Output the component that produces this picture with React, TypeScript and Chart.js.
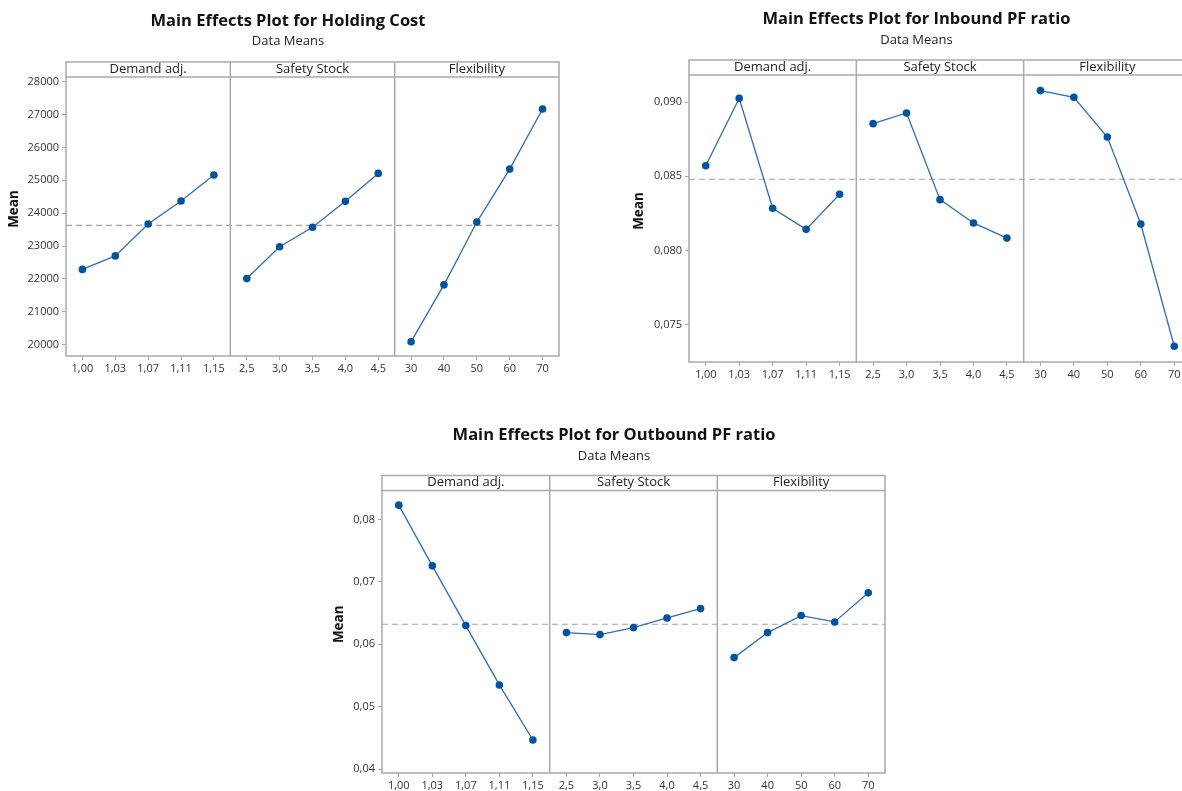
import React, { useEffect, useRef } from 'react';
import { Chart, registerables } from 'chart.js';

Chart.register(...registerables);

// ---------- data ----------
const factorNames = ['Demand adj.', 'Safety Stock', 'Flexibility'];
const demandLevels = ['1,00', '1,03', '1,07', '1,11', '1,15'];
const safetyLevels = ['2,5', '3,0', '3,5', '4,0', '4,5'];
const flexLevels = ['30', '40', '50', '60', '70'];

const holdingDemand = [22290, 22700, 23670, 24370, 25160];
const holdingSafety = [22010, 22980, 23570, 24360, 25210];
const holdingFlex = [20090, 21820, 23730, 25340, 27170];
const holdingTicks = [20000, 21000, 22000, 23000, 24000, 25000, 26000, 27000, 28000];

const inboundDemand = [0.0857, 0.09025, 0.08284, 0.08142, 0.08378];
const inboundSafety = [0.08854, 0.08926, 0.08342, 0.08185, 0.08083];
const inboundFlex = [0.09077, 0.09032, 0.08764, 0.08178, 0.07354];
const inboundTicks = [0.075, 0.08, 0.085, 0.09];

const outboundDemand = [0.0823, 0.07257, 0.06299, 0.05348, 0.04465];
const outboundSafety = [0.06187, 0.06155, 0.06267, 0.06422, 0.06572];
const outboundFlex = [0.05786, 0.06187, 0.0646, 0.06358, 0.06824];
const outboundTicks = [0.04, 0.05, 0.06, 0.07, 0.08];

// ---------- styles ----------
const FONT = '"Open Sans", "Noto Sans", sans-serif';
const LINE = '#2f6db5';
const POINT = '#00539e';
const FRAME = '#a9a9a9';
const TEXT = '#333333';

type Spec = {
  title: string;
  subtitle: string;
  left: number;
  top: number;
  width: number;
  height: number;
  frameTop: number;
  area: { left: number; top: number; right: number; bottom: number };
  series: number[][];
  yMin: number;
  yMax: number;
  yTicks: number[];
  fmt: (v: number) => string;
  titleX: number;
  titleY: number;
  subY: number;
  meanLabelX: number;
};

const specs: Spec[] = [
  {
    title: 'Main Effects Plot for Holding Cost',
    subtitle: 'Data Means',
    left: 0, top: 0, width: 570, height: 385,
    frameTop: 62,
    area: { left: 66, top: 77, right: 559, bottom: 356 },
    series: [holdingDemand, holdingSafety, holdingFlex],
    yMin: 19655, yMax: 28142, yTicks: holdingTicks,
    fmt: (v) => String(Math.round(v)),
    titleX: 288, titleY: 21, subY: 41.5, meanLabelX: 14,
  },
  {
    title: 'Main Effects Plot for Inbound PF ratio',
    subtitle: 'Data Means',
    left: 620, top: 0, width: 580, height: 390,
    frameTop: 60,
    area: { left: 69, top: 75, right: 571, bottom: 362 },
    series: [inboundDemand, inboundSafety, inboundFlex],
    yMin: 0.07248, yMax: 0.09182, yTicks: inboundTicks,
    fmt: (v) => v.toFixed(3).replace('.', ','),
    titleX: 296.5, titleY: 19, subY: 40, meanLabelX: 19,
  },
  {
    title: 'Main Effects Plot for Outbound PF ratio',
    subtitle: 'Data Means',
    left: 320, top: 420, width: 580, height: 371,
    frameTop: 55.5,
    area: { left: 62, top: 70.5, right: 565, bottom: 353 },
    series: [outboundDemand, outboundSafety, outboundFlex],
    yMin: 0.03936, yMax: 0.08465, yTicks: outboundTicks,
    fmt: (v) => v.toFixed(2).replace('.', ','),
    titleX: 294, titleY: 15, subY: 36, meanLabelX: 19,
  },
];

const levelSets = [demandLevels, safetyLevels, flexLevels];

function EffectsChart({ spec }: { spec: Spec }) {
  const ref = useRef<HTMLCanvasElement | null>(null);

  useEffect(() => {
    if (!ref.current) return;
    const labels = [...demandLevels, ...safetyLevels, ...flexLevels];
    const all = spec.series.flat();
    const grandMean = all.reduce((a, b) => a + b, 0) / all.length;

    const datasets = spec.series.map((vals, k) => ({
      data: levelSets[k].map((l, i) => ({ x: l, y: vals[i] })),
      borderColor: LINE,
      borderWidth: 1.3,
      backgroundColor: POINT,
      pointBackgroundColor: POINT,
      pointBorderColor: POINT,
      pointRadius: 3.8,
      pointBorderWidth: 0,
      tension: 0,
      fill: false,
      clip: false as any,
    }));

    const panelPlugin = {
      id: 'panels',
      beforeDatasetsDraw(chart: any) {
        const { ctx, chartArea } = chart;
        const y = chart.scales.y.getPixelForValue(grandMean);
        ctx.save();
        ctx.strokeStyle = '#a3a3a3';
        ctx.lineWidth = 1.2;
        ctx.setLineDash([6, 4]);
        ctx.beginPath();
        ctx.moveTo(chartArea.left, y);
        ctx.lineTo(chartArea.right, y);
        ctx.stroke();
        ctx.restore();
      },
      afterDraw(chart: any) {
        const { ctx, chartArea } = chart;
        const xs = chart.scales.x;
        const top = spec.frameTop;
        const { left, right, bottom } = chartArea;
        const hTop = chartArea.top;
        const b1 = (xs.getPixelForValue(4) + xs.getPixelForValue(5)) / 2;
        const b2 = (xs.getPixelForValue(9) + xs.getPixelForValue(10)) / 2;
        const bounds = [left, b1, b2, right];

        ctx.save();
        ctx.strokeStyle = FRAME;
        ctx.lineWidth = 1.5;
        ctx.strokeRect(left, top, right - left, bottom - top);
        ctx.beginPath();
        ctx.moveTo(left, hTop);
        ctx.lineTo(right, hTop);
        ctx.moveTo(b1, top);
        ctx.lineTo(b1, bottom);
        ctx.moveTo(b2, top);
        ctx.lineTo(b2, bottom);
        ctx.stroke();

        // panel headers
        ctx.fillStyle = '#222';
        ctx.font = `13px ${FONT}`;
        ctx.textAlign = 'center';
        ctx.textBaseline = 'middle';
        factorNames.forEach((name, i) => {
          ctx.fillText(name, (bounds[i] + bounds[i + 1]) / 2, (top + hTop) / 2 - 0.5);
        });

        // titles
        ctx.fillStyle = '#111';
        ctx.font = `bold 16.5px ${FONT}`;
        ctx.fillText(spec.title, spec.titleX, spec.titleY);
        ctx.font = `13px ${FONT}`;
        ctx.fillStyle = '#222';
        ctx.fillText(spec.subtitle, spec.titleX, spec.subY);

        // y label
        ctx.translate(spec.meanLabelX, (top + bottom) / 2);
        ctx.rotate(-Math.PI / 2);
        ctx.font = `bold 13.5px ${FONT}`;
        ctx.fillStyle = '#111';
        ctx.fillText('Mean', 0, 0);
        ctx.restore();
      },
    };

    const chart = new Chart(ref.current, {
      type: 'line',
      data: { labels, datasets: datasets as any },
      options: {
        responsive: false,
        animation: false,
        devicePixelRatio: 1,
        layout: {
          padding: { left: 0, top: spec.area.top, right: spec.width - spec.area.right, bottom: 0 },
        },
        plugins: {
          legend: { display: false },
          tooltip: { enabled: false },
          title: { display: false },
        },
        scales: {
          x: {
            type: 'category',
            offset: true,
            grid: { drawOnChartArea: false, drawTicks: true, tickLength: 4, color: FRAME, offset: false },
            border: { display: false },
            ticks: {
              font: { family: FONT, size: 11 },
              color: TEXT,
              padding: 2,
              maxRotation: 0,
              autoSkip: false,
            },
            afterFit: (s: any) => {
              s.height = spec.height - spec.area.bottom;
            },
          },
          y: {
            type: 'linear',
            min: spec.yMin,
            max: spec.yMax,
            afterBuildTicks: (s: any) => {
              s.ticks = spec.yTicks.map((v) => ({ value: v }));
            },
            grid: { drawOnChartArea: false, drawTicks: true, tickLength: 4, color: FRAME },
            border: { display: false },
            ticks: {
              font: { family: FONT, size: 11 },
              color: TEXT,
              padding: 3,
              callback: (v: any) => spec.fmt(Number(v)),
            },
            afterFit: (s: any) => {
              s.width = spec.area.left;
            },
          },
        },
      },
      plugins: [panelPlugin],
    });
    return () => chart.destroy();
  }, [spec]);

  return (
    <canvas
      ref={ref}
      width={spec.width}
      height={spec.height}
      style={{ position: 'absolute', left: spec.left, top: spec.top, width: spec.width, height: spec.height }}
    />
  );
}

export default function App() {
  return (
    <div
      style={{
        position: 'fixed',
        left: 0,
        top: 0,
        width: 1182,
        height: 791,
        overflow: 'hidden',
        background: '#ffffff',
      }}
    >
      {specs.map((s, i) => (
        <EffectsChart key={i} spec={s} />
      ))}
    </div>
  );
}
